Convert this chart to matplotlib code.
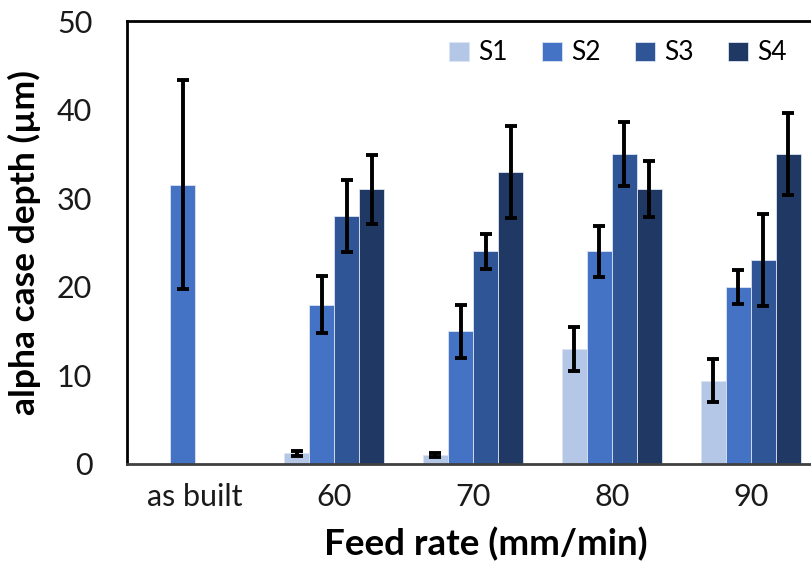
import matplotlib
matplotlib.use("Agg")
import matplotlib.pyplot as plt
import numpy as np

categories = ["as built", "60", "70", "80", "90"]
series_names = ["S1", "S2", "S3", "S4"]

s1_values = [0.0, 1.2, 1.0, 13.0, 9.4]
s2_values = [31.5, 18.0, 15.0, 24.0, 20.0]
s3_values = [0.0, 28.0, 24.0, 35.0, 23.0]
s4_values = [0.0, 31.0, 33.0, 31.0, 35.0]

s1_errors = [0.0, 0.3, 0.2, 2.45, 2.4]
s2_errors = [11.8, 3.2, 3.0, 2.9, 1.95]
s3_errors = [0.0, 4.1, 2.0, 3.6, 5.2]
s4_errors = [0.0, 3.9, 5.2, 3.15, 4.6]

# which categories actually carry a value for each series
s1_present = [False, True, True, True, True]
s2_present = [True, True, True, True, True]
s3_present = [False, True, True, True, True]
s4_present = [False, True, True, True, True]

colors = ["#B4C7E7", "#4472C4", "#2F5597", "#203864"]

plt.rcParams["font.family"] = ["Lato", "DejaVu Sans"]

fig = plt.figure(figsize=(8.11, 5.65), dpi=100)
ax = fig.add_axes([0.1566, 0.1788, 0.855, 0.784])

x = np.arange(len(categories))
width = 0.18
values = [s1_values, s2_values, s3_values, s4_values]
errors = [s1_errors, s2_errors, s3_errors, s4_errors]
present = [s1_present, s2_present, s3_present, s4_present]

for i, (vals, errs, pres, col, name) in enumerate(zip(values, errors, present, colors, series_names)):
    offs = (i - 1.5) * width
    xs = np.array([xx + offs for xx, p in zip(x, pres) if p])
    vs = np.array([v for v, p in zip(vals, pres) if p])
    es = np.array([e for e, p in zip(errs, pres) if p])
    ax.bar(xs, vs, width=width, color=col, edgecolor="#DCE4F2", linewidth=0.6, label=name, zorder=2)
    ax.errorbar(xs, vs, yerr=es, fmt="none", ecolor="black", elinewidth=2.8,
                capsize=4, capthick=2.8, zorder=3)

ax.set_xlim(-0.49, 4.5)
ax.set_ylim(0, 50)
ax.set_yticks([0, 10, 20, 30, 40, 50])
ax.set_xticks(x)
ax.set_xticklabels(categories)
ax.tick_params(axis="both", length=0, labelsize=22, colors="#1a1a1a")
ax.tick_params(axis="y", pad=25)
ax.tick_params(axis="x", pad=14)

for side in ["left", "top"]:
    ax.spines[side].set_color("black")
    ax.spines[side].set_linewidth(2.0)
ax.spines["bottom"].set_color("#404040")
ax.spines["bottom"].set_linewidth(2.0)
ax.spines["right"].set_visible(False)

ax.set_ylabel("alpha case depth (µm)", fontsize=25.5, fontweight="bold")
ax.set_xlabel("Feed rate (mm/min)", fontsize=26.5, fontweight="bold")
ax.yaxis.set_label_coords(-0.124, 0.5)
ax.xaxis.set_label_coords(0.518, -0.142)

leg = ax.legend(loc="center", bbox_to_anchor=(618 / 811, 1 - 53 / 565),
                bbox_transform=fig.transFigure, ncol=4, frameon=False,
                fontsize=19, handlelength=0.75, handleheight=0.75,
                handletextpad=0.35, columnspacing=1.3)

fig.savefig("out.png", dpi=100)
